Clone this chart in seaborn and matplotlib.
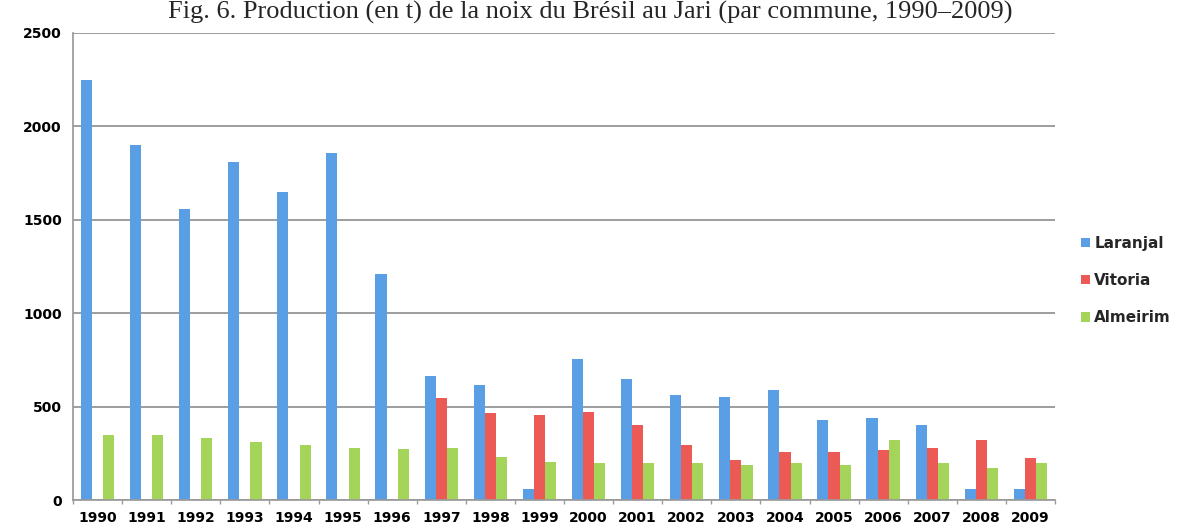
import matplotlib
matplotlib.use("Agg")
import matplotlib.pyplot as plt
import seaborn as sns
import pandas as pd
import numpy as np

years = [str(y) for y in range(1990, 2010)]
laranjal = [2250, 1900, 1560, 1810, 1650, 1860, 1210, 665, 615, 60, 755, 650,
            560, 550, 590, 430, 440, 400, 60, 60]
vitoria = [0, 0, 0, 0, 0, 0, 0, 545, 465, 455, 472, 400,
           294, 214, 257, 257, 268, 278, 321, 225]
almeirim = [350, 350, 332, 312, 294, 278, 272, 280, 230, 203, 198, 198,
            198, 187, 198, 187, 321, 198, 171, 198]
series_names = ["Laranjal", "Vitoria", "Almeirim"]
colors = ["#5A9FE6", "#EB5A55", "#A5D45A"]

rows = []
for name, vals in zip(series_names, [laranjal, vitoria, almeirim]):
    for y, v in zip(years, vals):
        rows.append({"year": y, "commune": name, "value": v})
df = pd.DataFrame(rows)

sns.set_theme(style="white")
plt.rcParams["font.family"] = ["DejaVu Sans"]

fig = plt.figure(figsize=(11.81, 5.31), dpi=100)
ax = fig.add_axes([73 / 1181, 31 / 531, 982 / 1181, 467 / 531])

sns.barplot(data=df, x="year", y="value", hue="commune", palette=colors,
            hue_order=series_names, order=years, width=0.68, gap=0,
            linewidth=0, saturation=1, ax=ax, legend=True)

ax.set_ylim(0, 2500)
ax.set_xlim(-0.5, len(years) - 0.5)
ax.set_yticks([0, 500, 1000, 1500, 2000, 2500])
ax.set_xticks(np.arange(-0.5, len(years), 1.0), minor=True)
ax.yaxis.grid(True, color="#8c8c8c", linewidth=1.2)
ax.set_axisbelow(True)
ax.set_xlabel("")
ax.set_ylabel("")
for s in ["top", "right"]:
    ax.spines[s].set_visible(False)
ax.spines["left"].set_color("#9a9a9a")
ax.spines["bottom"].set_color("#9a9a9a")
ax.tick_params(axis="both", which="major", length=0, labelsize=10, colors="black", pad=8)
ax.tick_params(axis="x", which="minor", length=3, color="#9a9a9a", bottom=True)
for lab in ax.get_xticklabels() + ax.get_yticklabels():
    lab.set_fontweight("bold")

leg = ax.legend(loc="center left", bbox_to_anchor=(1.012, 0.47), frameon=False,
                handlelength=0.6, handleheight=0.6,
                handletextpad=0.3, labelspacing=1.45,
                prop={"weight": "bold", "size": 11})

fig.text(0.5, 0.999,
         "Fig. 6. Production (en t) de la noix du Brésil au Jari (par commune, 1990–2009)",
         ha="center", va="top", fontsize=19, family="Liberation Serif")

fig.savefig("out.png", dpi=100)
